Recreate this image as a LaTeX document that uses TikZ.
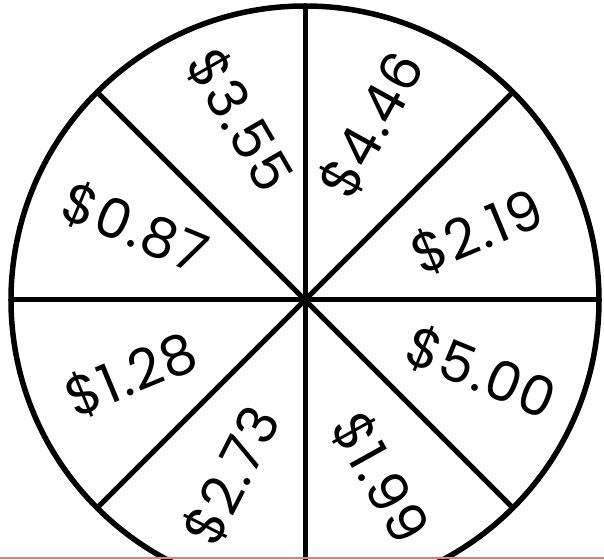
\documentclass[tikz,border=0pt]{standalone}
\usepackage{fontspec}
\setmainfont[LetterSpace=3]{Poppins}
\usepackage{tikz}
\definecolor{WheelInk}{HTML}{000000}
\definecolor{EdgeRed}{HTML}{F07878}
\tikzset{
  wheelrim/.style={draw=WheelInk,line width=5.5pt},
  spoke/.style={draw=WheelInk,line width=5pt},
  price/.style={font=\fontsize{55}{62}\selectfont,text=WheelInk,inner sep=0pt},
  pagerule/.style={draw=EdgeRed,line width=2pt},
}
\begin{document}
\begin{tikzpicture}[x=1pt,y=1pt]
  \useasboundingbox (-305,-259) rectangle (299,300);
  \coordinate (hub) at (0,0);
  \draw[wheelrim] (hub) circle (294);
  \foreach \ang in {0,45,...,315}
    \draw[spoke] (hub) -- (\ang:294);
  % prices, one per sector
  \node[price,rotate=61]   (p446) at (67,175)   {\$4.46};
  \node[price,rotate=22.5] (p219) at (172,68)   {\$2.19};
  \node[price,rotate=-22.5](p500) at (176,-73)  {\$5.00};
  \node[price,rotate=-61]  (p199) at (75,-178)  {\$1.99};
  \node[price,rotate=63]   (p273) at (-73,-176) {\$2.73};
  \node[price,rotate=22.5] (p128) at (-174,-75) {\$1.28};
  \node[price,rotate=-22.5](p087) at (-170,72)  {\$0.87};
  \node[price,rotate=-60]  (p355) at (-65,180)  {\$3.55};
  \draw[pagerule] (-305,-258) -- (299,-258);
\end{tikzpicture}
\end{document}
